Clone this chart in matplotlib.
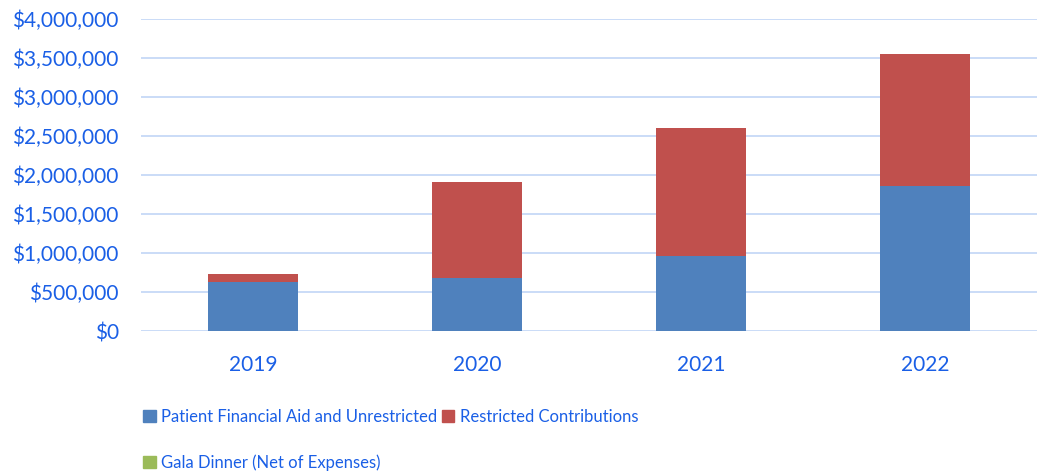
import matplotlib.pyplot as plt
import numpy as np
from matplotlib.ticker import FuncFormatter
from matplotlib.patches import Patch

plt.rcParams['font.family'] = ['Lato', 'DejaVu Sans']

years = ['2019', '2020', '2021', '2022']
patient_aid = [628000, 683000, 965000, 1860000]
restricted = [103000, 1227000, 1635000, 1690000]
gala_dinner = [0, 0, 0, 0]

blue = '#4F81BD'
red = '#C0504D'
green = '#9BBB59'
text_color = '#1A5FE6'
grid_color = '#C6D9F7'

fig = plt.figure(figsize=(10.38, 4.76), dpi=100)
ax = fig.add_axes([141 / 1038, 145 / 476, 896 / 1038, 312 / 476])

x = np.arange(len(years))
ax.bar(x, patient_aid, width=0.4, color=blue, zorder=3)
ax.bar(x, restricted, width=0.4, bottom=patient_aid, color=red, zorder=3)
base = np.array(patient_aid) + np.array(restricted)
ax.bar(x, gala_dinner, width=0.4, bottom=base, color=green, zorder=3)

ax.set_xlim(-0.5, len(years) - 0.5)
ax.set_ylim(0, 4000000)
ax.set_yticks(np.arange(0, 4000001, 500000))
ax.yaxis.set_major_formatter(FuncFormatter(lambda v, p: f'${v:,.0f}'))
ax.set_xticks(x)
ax.set_xticklabels(years)

ax.grid(axis='y', color=grid_color, linewidth=1.3, zorder=0)
for s in ax.spines.values():
    s.set_visible(False)
ax.tick_params(length=0, labelsize=15, labelcolor=text_color)
ax.tick_params(axis='y', pad=16)
ax.tick_params(axis='x', pad=17)

handles = [Patch(color=blue, label='Patient Financial Aid and Unrestricted'),
           Patch(color=green, label='Gala Dinner (Net of Expenses)'),
           Patch(color=red, label='Restricted Contributions')]
fig.legend(handles=handles, ncol=2, loc='upper left', bbox_to_anchor=(128 / 1038, 1 - 394 / 476),
           frameon=False, fontsize=12, labelcolor=text_color, handlelength=0.75,
           handleheight=0.75, handletextpad=0.35, columnspacing=0.25, labelspacing=1.75)

plt.savefig('out.png')
